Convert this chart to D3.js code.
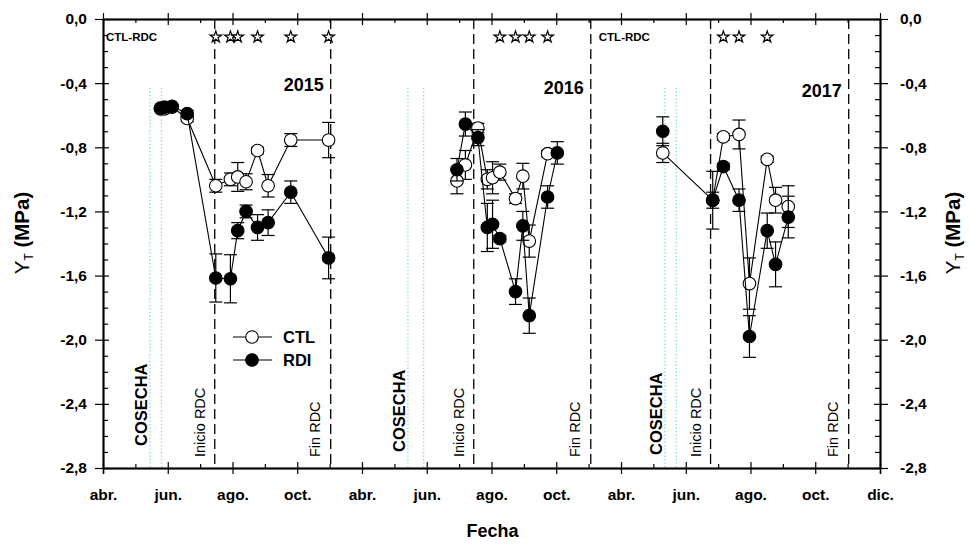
<!DOCTYPE html>
<html>
<head>
<meta charset="utf-8">
<script src="https://cdn.jsdelivr.net/npm/d3@7"></script>
<style>
  body { margin: 0; background: #fff; }
  svg text { font-family: "Liberation Sans", Arial, sans-serif; }
</style>
</head>
<body>
<svg id="chart" width="969" height="544"></svg>
<script>
(function () {
    "use strict";

    // ---- data ----
    var xTickLabels = ["abr.", "jun.", "ago.", "oct.", "abr.", "jun.", "ago.", "oct.", "abr.", "jun.", "ago.", "oct.", "dic."];
    var yTicks = [0, -0.4, -0.8, -1.2, -1.6, -2.0, -2.4, -2.8];
    var years = ["2015", "2016", "2017"];

    var dates2015 = ["2015-05-25", "2015-05-29", "2015-06-05", "2015-06-19", "2015-07-16", "2015-07-30", "2015-08-06", "2015-08-14", "2015-08-25", "2015-09-04", "2015-09-25", "2015-10-31"];
    var ctl2015 = [-0.56, -0.56, -0.55, -0.62, -1.04, -1.00, -0.985, -1.015, -0.82, -1.04, -0.755, -0.755];
    var ctlErr2015 = [0.01, 0.01, 0.01, 0.02, 0.04, 0.04, 0.09, 0.05, 0.02, 0.07, 0.04, 0.11];
    var rdi2015 = [-0.555, -0.55, -0.545, -0.59, -1.615, -1.62, -1.32, -1.20, -1.30, -1.27, -1.08, -1.49];
    var rdiErr2015 = [0.01, 0.01, 0.01, 0.02, 0.15, 0.15, 0.05, 0.04, 0.08, 0.08, 0.07, 0.13];

    var dates2016 = ["2016-06-29", "2016-07-07", "2016-07-19", "2016-07-28", "2016-08-02", "2016-08-09", "2016-08-24", "2016-08-31", "2016-09-06", "2016-09-23", "2016-10-02"];
    var ctl2016 = [-1.01, -0.91, -0.68, -1.00, -0.99, -0.955, -1.12, -0.98, -1.385, -0.84, null];
    var ctlErr2016 = [0.08, 0.09, 0.03, 0.06, 0.10, 0.05, 0.03, 0.08, 0.10, 0.02, null];
    var rdi2016 = [-0.94, -0.655, -0.74, -1.30, -1.28, -1.37, -1.70, -1.29, -1.85, -1.11, -0.835];
    var rdiErr2016 = [0.07, 0.075, 0.05, 0.15, 0.15, 0.02, 0.08, 0.09, 0.11, 0.07, 0.07];

    var dates2017 = ["2017-05-10", "2017-06-26", "2017-07-06", "2017-07-21", "2017-07-31", "2017-08-17", "2017-08-25", "2017-09-06"];
    var ctl2017 = [-0.835, -1.13, -0.735, -0.72, -1.65, -0.875, -1.13, -1.17];
    var ctlErr2017 = [0.06, 0.18, 0.02, 0.09, 0.16, 0.02, 0.08, 0.13];
    var rdi2017 = [-0.70, -1.13, -0.92, -1.13, -1.98, -1.32, -1.53, -1.235];
    var rdiErr2017 = [0.09, 0.05, 0.02, 0.07, 0.13, 0.11, 0.14, 0.13];
    var rdiBreaks = ["2017-06-26"]; // RDI line restarts here

    // start / end of deficit irrigation, harvest window
    var inicioRDC = ["2015-07-15", "2016-07-15", "2017-06-24"];
    var finRDC = ["2015-11-02", "2016-11-03", "2017-11-02"];
    var cosecha = [["2015-05-15", "2015-05-26"], ["2016-05-14", "2016-05-29"], ["2017-05-12", "2017-05-23"]];

    // significant CTL-RDC differences
    var stars = ["2015-07-16", "2015-07-30", "2015-08-06", "2015-08-25", "2015-09-25", "2015-10-31",
                 "2016-08-09", "2016-08-24", "2016-09-06", "2016-09-23",
                 "2017-07-06", "2017-07-21", "2017-08-17"];

    // ---- layout ----
    var left = 103, right = 880, top = 19, bottom = 468;
    var svg = d3.select("#chart");

    // x: months, with dec-mar skipped between seasons (8 months per season)
    var parse = d3.timeParse("%Y-%m-%d");
    function monthPos(s) {
        var d = parse(s);
        var yr = d.getFullYear(), mo = d.getMonth();
        var days = new Date(yr, mo + 1, 0).getDate();
        return (yr - 2015) * 8 + (mo - 3) + (d.getDate() - 1) / days;
    }

    var x = d3.scaleLinear().domain([0, 24]).range([left, right]);
    var y = d3.scaleLinear().domain([0, -2.8]).range([top, bottom]);

    var major = d3.range(0, 25, 2);
    var minorX = d3.range(1, 24, 2);
    var minorY = d3.range(-0.1, -2.75, -0.1).filter(function (v) {
        return Math.abs(Math.round(v * 10) % 4) !== 0;
    });

    // ---- harvest dotted lines ----
    cosecha.forEach(function (pair) {
        pair.forEach(function (dt) {
            svg.append("line")
                .attr("x1", x(monthPos(dt))).attr("x2", x(monthPos(dt)))
                .attr("y1", y(-0.43)).attr("y2", bottom)
                .attr("stroke", "#86d4d4").attr("stroke-width", 1.3)
                .attr("stroke-dasharray", "1.3,2.2");
        });
    });

    // ---- RDC dashed lines ----
    inicioRDC.concat(finRDC).forEach(function (dt) {
        svg.append("line")
            .attr("x1", x(monthPos(dt))).attr("x2", x(monthPos(dt)))
            .attr("y1", top).attr("y2", bottom)
            .attr("stroke", "#000").attr("stroke-width", 1.3)
            .attr("stroke-dasharray", "10,5");
    });

    // ---- axes ----
    function styleAxis(g) {
        g.select(".domain").attr("stroke", "#000").attr("stroke-width", 1.5);
        g.selectAll(".tick line").attr("stroke", "#000").attr("stroke-width", 1.2);
        g.selectAll(".tick text").attr("fill", "#000")
            .style("font-size", "15.5px").style("font-weight", "bold");
    }

    // bottom
    svg.append("g").attr("transform", "translate(0," + bottom + ")")
        .call(d3.axisBottom(x).tickValues(major).tickSize(6).tickPadding(15)
            .tickFormat(function (d) { return xTickLabels[d / 2]; }))
        .call(styleAxis);
    svg.append("g").attr("transform", "translate(0," + bottom + ")")
        .call(d3.axisBottom(x).tickValues(major).tickSize(-6).tickSizeOuter(0).tickFormat(""))
        .call(styleAxis);
    svg.append("g").attr("transform", "translate(0," + bottom + ")")
        .call(d3.axisBottom(x).tickValues(minorX).tickSize(-4).tickSizeOuter(0).tickFormat(""))
        .call(styleAxis);
    // top
    svg.append("g").attr("transform", "translate(0," + top + ")")
        .call(d3.axisTop(x).tickValues(major).tickSize(6).tickSizeOuter(0).tickFormat(""))
        .call(styleAxis);
    svg.append("g").attr("transform", "translate(0," + top + ")")
        .call(d3.axisTop(x).tickValues(major).tickSize(-6).tickSizeOuter(0).tickFormat(""))
        .call(styleAxis);
    svg.append("g").attr("transform", "translate(0," + top + ")")
        .call(d3.axisTop(x).tickValues(minorX).tickSize(-4).tickSizeOuter(0).tickFormat(""))
        .call(styleAxis);

    var yFmt = function (d) { return d.toFixed(1).replace(".", ","); };
    // left
    svg.append("g").attr("transform", "translate(" + left + ",0)")
        .call(d3.axisLeft(y).tickValues(yTicks).tickSize(8).tickSizeOuter(0).tickPadding(8).tickFormat(yFmt))
        .call(styleAxis);
    svg.append("g").attr("transform", "translate(" + left + ",0)")
        .call(d3.axisLeft(y).tickValues(yTicks).tickSize(-6).tickSizeOuter(0).tickFormat(""))
        .call(styleAxis);
    svg.append("g").attr("transform", "translate(" + left + ",0)")
        .call(d3.axisLeft(y).tickValues(minorY).tickSize(-5).tickSizeOuter(0).tickFormat(""))
        .call(styleAxis);
    // right
    svg.append("g").attr("transform", "translate(" + right + ",0)")
        .call(d3.axisRight(y).tickValues(yTicks).tickSize(8).tickSizeOuter(0).tickPadding(12).tickFormat(yFmt))
        .call(styleAxis);
    svg.append("g").attr("transform", "translate(" + right + ",0)")
        .call(d3.axisRight(y).tickValues(yTicks).tickSize(-6).tickSizeOuter(0).tickFormat(""))
        .call(styleAxis);
    svg.append("g").attr("transform", "translate(" + right + ",0)")
        .call(d3.axisRight(y).tickValues(minorY).tickSize(-5).tickSizeOuter(0).tickFormat(""))
        .call(styleAxis);

    // ---- axis titles ----
    svg.append("text")
        .attr("x", (left + right) / 2 + 1).attr("y", 537)
        .attr("text-anchor", "middle")
        .style("font-size", "18px").style("font-weight", "bold")
        .text("Fecha");

    [29, 960].forEach(function (tx) {
        var t = svg.append("text")
            .attr("transform", "translate(" + tx + ",233) rotate(-90)")
            .attr("text-anchor", "middle")
            .style("font-size", "20.5px");
        t.append("tspan").text("Y");
        t.append("tspan").attr("dy", 4).style("font-size", "12px").text("T");
        t.append("tspan").attr("dy", -4).style("font-weight", "bold").text(" (MPa)");
    });

    // ---- text annotations ----
    inicioRDC.forEach(function (dt) {
        svg.append("text")
            .attr("transform", "translate(" + (x(monthPos(dt)) - 10) + ",457) rotate(-90)")
            .style("font-size", "14.5px")
            .text("Inicio RDC");
    });
    finRDC.forEach(function (dt) {
        svg.append("text")
            .attr("transform", "translate(" + (x(monthPos(dt)) - 11) + ",457) rotate(-90)")
            .style("font-size", "14.5px")
            .text("Fin RDC");
    });
    var cosechaBottom = [446, 452, 455];
    cosecha.forEach(function (pair, i) {
        svg.append("text")
            .attr("transform", "translate(" + (x(monthPos(pair[0])) - 3) + "," + cosechaBottom[i] + ") rotate(-90)")
            .style("font-size", "16.5px").style("font-weight", "bold")
            .text("COSECHA");
    });

    var yearY = [91, 94, 97];
    years.forEach(function (yr, i) {
        svg.append("text")
            .attr("x", x(monthPos(finRDC[i])) - 7).attr("y", yearY[i])
            .attr("text-anchor", "end")
            .style("font-size", "18px").style("font-weight", "bold")
            .text(yr);
    });

    [x(0) + 3, x(monthPos(finRDC[1])) + 8].forEach(function (tx) {
        svg.append("text")
            .attr("x", tx).attr("y", 41)
            .style("font-size", "11.5px").style("font-weight", "bold")
            .text("CTL-RDC");
    });

    var star = d3.symbol().type(d3.symbolStar).size(42);
    svg.selectAll(".star").data(stars).enter().append("path")
        .attr("class", "star")
        .attr("transform", function (d) { return "translate(" + x(monthPos(d)) + ",37)"; })
        .attr("d", star)
        .attr("fill", "#fff").attr("stroke", "#000").attr("stroke-width", 1.2);

    // ---- series ----
    function build(dates, vals, errs) {
        return dates.map(function (d, i) {
            return { key: d, m: monthPos(d), v: vals[i], e: errs[i] };
        }).filter(function (p) { return p.v !== null; });
    }

    var ctl = [build(dates2015, ctl2015, ctlErr2015), build(dates2016, ctl2016, ctlErr2016), build(dates2017, ctl2017, ctlErr2017)];
    var rdi = [build(dates2015, rdi2015, rdiErr2015), build(dates2016, rdi2016, rdiErr2016), build(dates2017, rdi2017, rdiErr2017)];

    // split runs where a line restarts
    function runs(pts, breaks) {
        var out = [], cur = [];
        pts.forEach(function (p) {
            if (breaks.indexOf(p.key) >= 0 && cur.length) { out.push(cur); cur = []; }
            cur.push(p);
        });
        if (cur.length) out.push(cur);
        return out;
    }

    var line = d3.line().x(function (p) { return x(p.m); }).y(function (p) { return y(p.v); });
    var r = 6.3, cap = 6.5;

    function drawSeries(seasons, fill, breaks) {
        var g = svg.append("g");
        seasons.forEach(function (pts) {
            runs(pts, breaks).forEach(function (run) {
                g.append("path").attr("d", line(run))
                    .attr("fill", "none").attr("stroke", "#000").attr("stroke-width", 1.1);
            });
            var eb = g.selectAll(null).data(pts).enter().append("g");
            eb.append("line")
                .attr("x1", function (p) { return x(p.m); }).attr("x2", function (p) { return x(p.m); })
                .attr("y1", function (p) { return y(p.v - p.e); }).attr("y2", function (p) { return y(p.v + p.e); });
            eb.append("line")
                .attr("x1", function (p) { return x(p.m) - cap; }).attr("x2", function (p) { return x(p.m) + cap; })
                .attr("y1", function (p) { return y(p.v - p.e); }).attr("y2", function (p) { return y(p.v - p.e); });
            eb.append("line")
                .attr("x1", function (p) { return x(p.m) - cap; }).attr("x2", function (p) { return x(p.m) + cap; })
                .attr("y1", function (p) { return y(p.v + p.e); }).attr("y2", function (p) { return y(p.v + p.e); });
            eb.selectAll("line").attr("stroke", "#000").attr("stroke-width", 1.2);
            g.selectAll(null).data(pts).enter().append("circle")
                .attr("cx", function (p) { return x(p.m); })
                .attr("cy", function (p) { return y(p.v); })
                .attr("r", r)
                .attr("fill", fill).attr("stroke", "#000").attr("stroke-width", 1.1);
        });
    }

    drawSeries(ctl, "#fff", []);
    drawSeries(rdi, "#000", rdiBreaks);

    // ---- legend ----
    var legend = [{ name: "CTL", fill: "#fff", y: 337 }, { name: "RDI", fill: "#000", y: 360 }];
    legend.forEach(function (l) {
        svg.append("line").attr("x1", 233).attr("x2", 272).attr("y1", l.y).attr("y2", l.y)
            .attr("stroke", "#000").attr("stroke-width", 1.1);
        svg.append("circle").attr("cx", 252).attr("cy", l.y).attr("r", r)
            .attr("fill", l.fill).attr("stroke", "#000").attr("stroke-width", 1.1);
        svg.append("text").attr("x", 283).attr("y", l.y + 6)
            .style("font-size", "16.5px").style("font-weight", "bold")
            .text(l.name);
    });
})();
</script>
</body>
</html>
